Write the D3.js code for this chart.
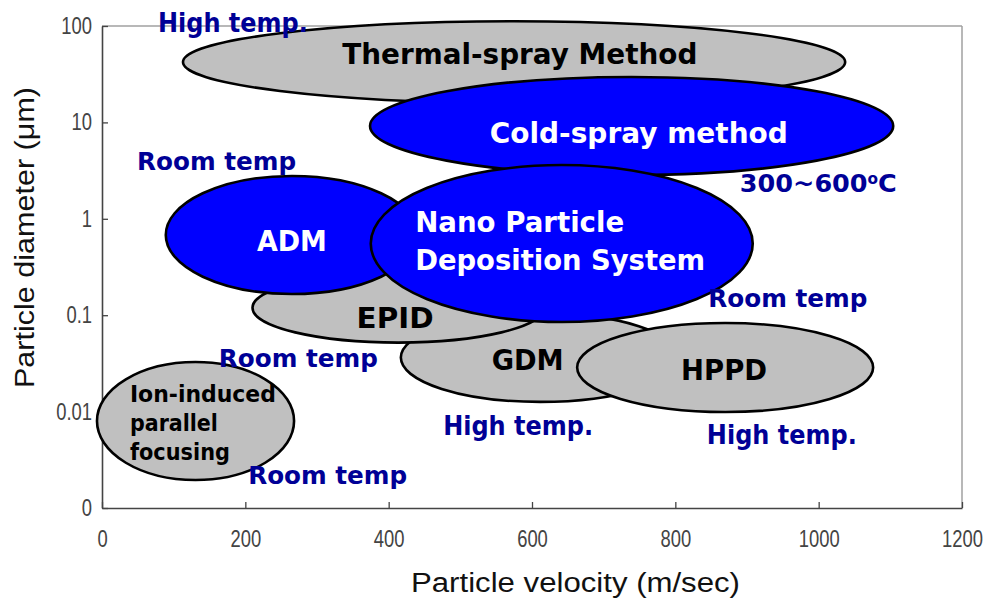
<!DOCTYPE html>
<html>
<head>
<meta charset="utf-8">
<script src="https://cdn.jsdelivr.net/npm/d3@7"></script>
<style>
  body { margin: 0; background: #fff; }
  svg { display: block; }
</style>
</head>
<body>
<svg id="chart" width="987" height="598"></svg>
<script>
// ---- Deposition methods: velocity range (m/sec) and particle diameter range (µm) ----
const methods = ["Thermal-spray Method", "Cold-spray method", "Ion-induced parallel focusing",
                 "GDM", "EPID", "HPPD", "ADM", "Nano Particle Deposition System"];
const velocityMin = [113, 374, -7, 417, 210, 663, 89, 375];
const velocityMax = [1037, 1104, 268, 806, 617, 1076, 441, 908];
const diameterMin = [15.9, 2.85, 0.00195, 0.0126, 0.052, 0.0099, 0.166, 0.085];
const diameterMax = [112, 29.6, 0.0327, 0.105, 0.274, 0.083, 2.78, 3.61];
const highlighted = [false, true, false, false, false, false, true, true];

// Label text lines and their anchor (velocity, diameter of first baseline)
const labelLines = [["Thermal-spray Method"], ["Cold-spray method"], ["Ion-induced", "parallel", "focusing"],
                    ["GDM"], ["EPID"], ["HPPD"], ["ADM"], ["Nano Particle", "Deposition System"]];
const labelVelocity = [583, 749, 39, 594, 409, 868, 265, 437];
const labelDiameter = [40.4, 6.11, 0.01258, 0.0271, 0.0736, 0.0213, 0.463, 0.729];

// Process temperature notes
const noteText = ["High temp.", "Room temp", "300~600", "Room temp", "Room temp", "High temp.", "High temp.", "Room temp"];
const noteVelocity = [78, 49, 890, 846, 163, 476, 844, 204];
const noteDiameter = [86.7, 3.21, 1.90, 0.1216, 0.0290, 0.00571, 0.00461, 0.00177];

// Axis ticks
const xTickValues = [0, 200, 400, 600, 800, 1000, 1200];
const yTickValues = [0.001, 0.01, 0.1, 1, 10, 100];
const yTickLabels = ["0", "0.01", "0.1", "1", "10", "100"];

// ---- Layout & style ----
const plot = { left: 102, right: 962, top: 26, bottom: 508 };
const labelFont = "'DejaVu Sans', Verdana, sans-serif";
const tickFont = "'Liberation Sans', Arial, sans-serif";
const titleFont = "'Liberation Sans', Arial, sans-serif";
const noteColor = "#000096";
const tickStretch = 1.27;     // tall, narrow tick digits
// text widths for the labels, in px
const labelWidths = {
  "Thermal-spray Method": 355, "Cold-spray method": 298, "Ion-induced": 146, "parallel": 88,
  "focusing": 100, "GDM": 72, "EPID": 77, "HPPD": 86, "ADM": 70,
  "Nano Particle": 209, "Deposition System": 290
};
const noteWidths = { "High temp.": 150, "Room temp": 159 };

const svg = d3.select("#chart");

const x = d3.scaleLinear().domain([0, 1200]).range([plot.left, plot.right]);
const y = d3.scaleLog().domain([0.001, 100]).range([plot.bottom, plot.top]);

// ---- Frame: light top/right borders ----
svg.append("line")
  .attr("x1", plot.left).attr("x2", plot.right).attr("y1", plot.top).attr("y2", plot.top)
  .attr("stroke", "#a0a0a0").attr("stroke-width", 1.5);
svg.append("line")
  .attr("x1", plot.right).attr("x2", plot.right).attr("y1", plot.top).attr("y2", plot.bottom)
  .attr("stroke", "#a0a0a0").attr("stroke-width", 1.5);

// ---- Axes ----
const xAxis = d3.axisBottom(x).tickValues(xTickValues).tickFormat(d3.format("d"))
  .tickSizeInner(-6).tickSizeOuter(0).tickPadding(17.9);
const yAxis = d3.axisLeft(y).tickValues(yTickValues)
  .tickFormat((d, i) => yTickLabels[i]).tickSizeInner(-6).tickSizeOuter(0).tickPadding(10);

function styleAxis(g) {
  g.select(".domain").attr("stroke", "#444").attr("stroke-width", 1.6);
  g.selectAll(".tick line").attr("stroke", "#444").attr("stroke-width", 1.3);
  g.selectAll(".tick text").attr("fill", "#444")
    .style("font-family", tickFont).style("font-size", "18.4px")
    .attr("transform", `scale(1,${tickStretch})`);
}
svg.append("g").attr("transform", `translate(0,${plot.bottom})`).call(xAxis).call(styleAxis);
svg.append("g").attr("transform", `translate(${plot.left},0)`).call(yAxis).call(styleAxis);

// ---- Axis titles ----
svg.append("text")
  .attr("x", 411).attr("y", 592)
  .attr("textLength", 329).attr("lengthAdjust", "spacingAndGlyphs")
  .style("font-family", titleFont).style("font-size", "27px").attr("fill", "#111")
  .text("Particle velocity  (m/sec)");
svg.append("text")
  .attr("transform", "translate(34,388) rotate(-90)")
  .attr("textLength", 301).attr("lengthAdjust", "spacingAndGlyphs")
  .style("font-family", titleFont).style("font-size", "27px").attr("fill", "#111")
  .text("Particle diameter  (μm)");

// ---- Method regions as ellipses in (velocity, log diameter) space ----
const regions = methods.map((name, i) => ({
  name,
  vMin: velocityMin[i], vMax: velocityMax[i],
  dMin: diameterMin[i], dMax: diameterMax[i],
  highlighted: highlighted[i],
  lines: labelLines[i],
  lv: labelVelocity[i], ld: labelDiameter[i]
}));

svg.append("g").selectAll("ellipse")
  .data(regions).join("ellipse")
  .attr("cx", d => (x(d.vMin) + x(d.vMax)) / 2)
  .attr("cy", d => (y(d.dMin) + y(d.dMax)) / 2)
  .attr("rx", d => (x(d.vMax) - x(d.vMin)) / 2)
  .attr("ry", d => (y(d.dMin) - y(d.dMax)) / 2)
  .attr("fill", d => d.highlighted ? "#0000ff" : "#c0c0c0")
  .attr("stroke", "#000").attr("stroke-width", 2.6);

// ---- Method labels ----
const multiLine = { "Ion-induced parallel focusing": 29, "Nano Particle Deposition System": 38 };
regions.forEach(d => {
  const lineGap = multiLine[d.name];
  const anchor = lineGap ? "start" : "middle";
  const size = d.name === "Ion-induced parallel focusing" ? 23 : 29;
  d.lines.forEach((line, k) => {
    svg.append("text")
      .attr("x", x(d.lv))
      .attr("y", y(d.ld) + (lineGap ? k * lineGap : 0))
      .attr("text-anchor", anchor)
      .attr("textLength", labelWidths[line]).attr("lengthAdjust", "spacingAndGlyphs")
      .style("font-family", labelFont).style("font-weight", "bold").style("font-size", size + "px")
      .attr("fill", d.highlighted ? "#fff" : "#000")
      .text(line);
  });
});

// ---- Temperature notes ----
noteText.forEach((t, i) => {
  const txt = svg.append("text")
    .attr("x", x(noteVelocity[i])).attr("y", y(noteDiameter[i]))
    .style("font-family", labelFont).style("font-weight", "bold")
    .style("font-size", t === "High temp." ? "27px" : "25px")
    .attr("fill", noteColor);
  if (t === "300~600") {
    txt.attr("textLength", 157).attr("lengthAdjust", "spacingAndGlyphs");
    txt.append("tspan").text(t);
    txt.append("tspan").attr("dy", -8).style("font-size", "15px").text("o");
    txt.append("tspan").attr("dy", 8).text("C");
  } else {
    txt.attr("textLength", noteWidths[t]).attr("lengthAdjust", "spacingAndGlyphs").text(t);
  }
});
</script>
</body>
</html>
